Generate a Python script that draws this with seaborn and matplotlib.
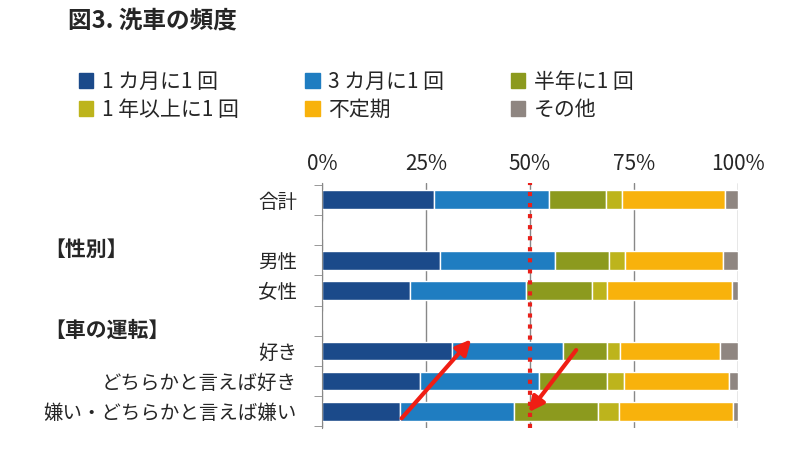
import numpy as np
import pandas as pd
import seaborn as sns
import matplotlib.pyplot as plt

sns.set_style('white')
plt.rcParams['font.family'] = ['Noto Sans CJK JP', 'Noto Sans CJK SC', 'DejaVu Sans']

rows = ['合計', '', '男性', '女性', ' ', '好き', 'どちらかと言えば好き', '嫌い・どちらかと言えば嫌い']
series = ['1 カ月に1 回', '3 カ月に1 回', '半年に1 回', '1 年以上に1 回', '不定期', 'その他']
colors = ['#1B4A8A', '#1F7DC1', '#8C9A1E', '#BDB41C', '#F8B20C', '#8F8681']

m1 = [27.0, 0, 28.4, 21.2, 0, 31.3, 23.6, 18.8]
m3 = [27.6, 0, 27.6, 27.9, 0, 26.7, 28.6, 27.4]
half = [13.7, 0, 13.0, 15.9, 0, 10.6, 16.3, 20.2]
year = [3.8, 0, 3.8, 3.6, 0, 3.1, 4.1, 5.0]
irreg = [24.8, 0, 23.6, 30.0, 0, 24.0, 25.2, 27.4]
other = [3.1, 0, 3.6, 1.4, 0, 4.3, 2.2, 1.2]

df = pd.DataFrame({'row': rows, series[0]: m1, series[1]: m3, series[2]: half,
                   series[3]: year, series[4]: irreg, series[5]: other})

fig = plt.figure(figsize=(8, 4.5), dpi=100)
ax = fig.add_axes([0.4025, 0.049, 0.52, 0.544])

left = np.zeros(len(rows))
for s, c in zip(series, colors):
    sns.barplot(data=df, y='row', x=s, color=c, left=left, orient='h', width=0.62,
                saturation=1, ax=ax, order=rows)
    left += df[s].values

ax.set_xlim(0, 100)
ax.set_ylim(7.55, -0.55)
ax.set_xticks([0, 25, 50, 75, 100])
ax.set_xticklabels(['0%', '25%', '50%', '75%', '100%'], fontsize=15)
ax.xaxis.tick_top()
ax.tick_params(axis='x', length=0, pad=6)
ax.set_yticks(np.arange(len(rows)))
ax.set_yticklabels(rows, fontsize=14)
ax.set_yticks(np.arange(len(rows) + 1) - 0.5, minor=True)
ax.tick_params(axis='y', which='major', length=0, pad=18)
ax.tick_params(axis='y', which='minor', length=6, color='#888888', left=True)
ax.set_xlabel('')
ax.set_ylabel('')
ax.grid(axis='x', color='#888888', linewidth=1)
ax.set_axisbelow(True)
for sp in ['top', 'right', 'bottom']:
    ax.spines[sp].set_visible(False)
ax.spines['left'].set_color('#888888')

ax.axvline(50, color='#E8201A', linestyle=':', linewidth=3)
ax.annotate('', xy=(36.3, 4.55), xytext=(18.7, 7.3),
            arrowprops=dict(arrowstyle='-|>', color='#F01E14', lw=3, mutation_scale=22))
ax.annotate('', xy=(49.3, 7.1), xytext=(61.5, 4.9),
            arrowprops=dict(arrowstyle='-|>', color='#F01E14', lw=3, mutation_scale=22))

fig.text(0.085, 0.955, '図3. 洗車の頻度', fontsize=17, fontweight='bold', va='center')
fig.text(0.055, 0.445, '【性別】', fontsize=15, fontweight='bold', va='center')
fig.text(0.055, 0.265, '【車の運転】', fontsize=15, fontweight='bold', va='center')

handles = [plt.Rectangle((0, 0), 1, 1, color=c) for c in colors]
order = [0, 3, 1, 4, 2, 5]  # legend fills column-major; reorder to read row by row
fig.legend([handles[i] for i in order], [series[i] for i in order], ncol=3,
           loc='upper left', bbox_to_anchor=(0.075, 0.885),
           frameon=False, fontsize=15, handlelength=0.7, handleheight=0.7,
           columnspacing=3.2, labelspacing=0.3, handletextpad=0.4)

fig.savefig('out.png', dpi=100)
